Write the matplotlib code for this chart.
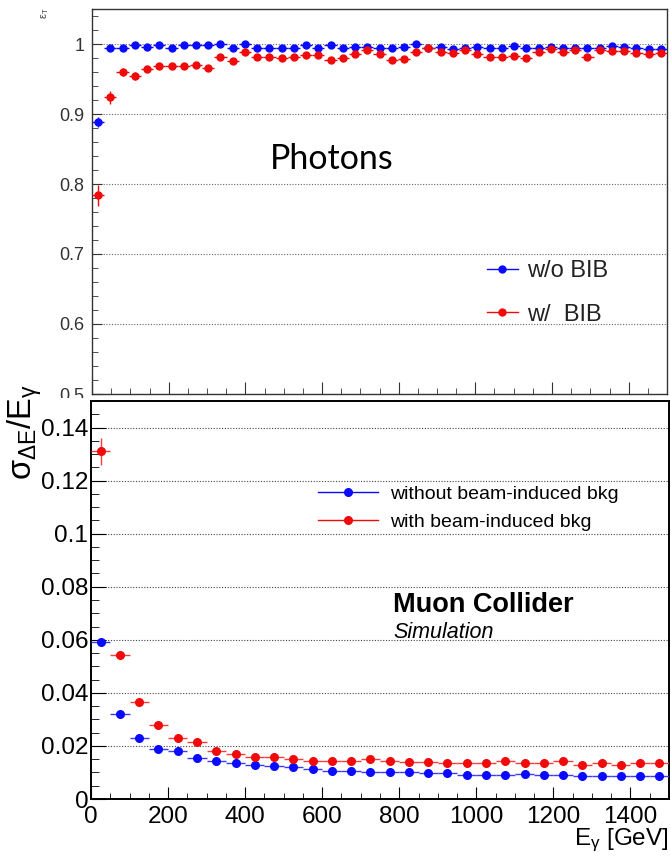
import numpy as np
import matplotlib
matplotlib.use('Agg')
import matplotlib.pyplot as plt
from matplotlib import font_manager
from matplotlib.ticker import MultipleLocator, FuncFormatter
from matplotlib.lines import Line2D
from matplotlib.patches import Rectangle

plt.rcParams['font.family'] = ['Liberation Sans', 'DejaVu Sans']
plt.rcParams['mathtext.default'] = 'regular'

try:
    font_manager.findfont('Liberation Sans Narrow', fallback_to_default=False)
    NARROW = True
except Exception:
    NARROW = False

# ---------------- data ----------------
# top panel: photon efficiency, 47 bins over 0-1500 GeV
eff_bin_edges = np.linspace(0, 1500, 48)
eff_noBIB = [0.889, 0.994, 0.995, 0.998, 0.996, 0.998, 0.995, 0.998, 0.998, 0.998,
             1.000, 0.995, 1.000, 0.995, 0.995, 0.995, 0.995, 0.998, 0.995, 0.998,
             0.995, 0.996, 0.996, 0.995, 0.995, 0.996, 1.000, 0.995, 0.996, 0.993,
             0.995, 0.996, 0.994, 0.995, 0.997, 0.995, 0.994, 0.996, 0.994, 0.995,
             0.994, 0.994, 0.997, 0.996, 0.995, 0.993, 0.993]
eff_noBIB_err = [0.007] + [0.002] * 46
eff_BIB = [0.784, 0.924, 0.960, 0.954, 0.964, 0.968, 0.968, 0.969, 0.970, 0.966,
           0.981, 0.976, 0.988, 0.982, 0.981, 0.980, 0.981, 0.984, 0.984, 0.977,
           0.980, 0.986, 0.992, 0.986, 0.977, 0.979, 0.989, 0.994, 0.989, 0.987,
           0.991, 0.986, 0.982, 0.981, 0.983, 0.980, 0.989, 0.993, 0.989, 0.992,
           0.982, 0.992, 0.990, 0.990, 0.987, 0.986, 0.987]
eff_BIB_err = [0.015, 0.009, 0.006, 0.006] + [0.004] * 43

# bottom panel: relative energy resolution, 30 bins of 50 GeV
res_bin_edges = np.linspace(0, 1500, 31)
res_noBIB = [0.0590, 0.0320, 0.0230, 0.0189, 0.0180, 0.0155, 0.0145, 0.0135, 0.0127, 0.0125,
             0.0120, 0.0112, 0.0107, 0.0107, 0.0103, 0.0101, 0.0101, 0.0098, 0.0098, 0.0092,
             0.0092, 0.0092, 0.0096, 0.0092, 0.0089, 0.0088, 0.0088, 0.0088, 0.0088, 0.0088]
res_noBIB_err = [0.0006] + [0.0003] * 29
res_BIB = [0.1310, 0.0541, 0.0367, 0.0279, 0.0230, 0.0214, 0.0181, 0.0170, 0.0160, 0.0159,
           0.0150, 0.0143, 0.0145, 0.0145, 0.0151, 0.0142, 0.0141, 0.0141, 0.0135, 0.0137,
           0.0135, 0.0142, 0.0135, 0.0137, 0.0142, 0.0128, 0.0136, 0.0129, 0.0137, 0.0135]
res_BIB_err = [0.005, 0.0008] + [0.0004] * 28

labels_top = ['w/o BIB', 'w/  BIB']
labels_bottom = ['without beam-induced bkg', 'with beam-induced bkg']

BLUE = '#0a0aff'
RED = '#f00a0a'

if NARROW:
    ROOTFAM = ['Liberation Sans Narrow', 'DejaVu Sans']
    TICK_FS, LEG_FS, LEG_LS, LEG_Y = 19.5, 17, 0.3, 483
else:
    ROOTFAM = ['Liberation Sans', 'DejaVu Sans']
    TICK_FS, LEG_FS, LEG_LS, LEG_Y = 17.5, 14, 0.56, 485

# ---------------- figure ----------------
W, H = 671, 856
fig = plt.figure(figsize=(W / 100, H / 100), dpi=100)


def box(l, t, r, b):
    return [l / W, 1 - b / H, (r - l) / W, (b - t) / H]


ax1 = fig.add_axes(box(92, 9, 667, 394))
ax2 = fig.add_axes(box(91, 401, 669, 799))
ax1.set_zorder(0)
ax2.set_zorder(2)

gfmt = FuncFormatter(lambda v, p: '%g' % round(v, 6))

# ---- top panel ----
ec = np.asarray(eff_bin_edges)
cx = 0.5 * (ec[1:] + ec[:-1])
hx = 0.5 * (ec[1:] - ec[:-1])
ax1.errorbar(cx, eff_noBIB, xerr=hx, yerr=eff_noBIB_err, fmt='o', color=BLUE,
             ms=5, elinewidth=1, capsize=0, zorder=3)
ax1.errorbar(cx, eff_BIB, xerr=hx, yerr=eff_BIB_err, fmt='o', color=RED,
             ms=5, elinewidth=1, capsize=0, zorder=4)
ax1.set_xlim(0, 1500)
ax1.set_ylim(0.5, 1.05)
ax1.xaxis.set_major_locator(MultipleLocator(200))
ax1.xaxis.set_minor_locator(MultipleLocator(50))
ax1.yaxis.set_major_locator(MultipleLocator(0.1))
ax1.yaxis.set_minor_locator(MultipleLocator(0.02))
ax1.yaxis.set_major_formatter(gfmt)
ax1.tick_params(which='both', direction='in', top=False, right=False,
                labelbottom=False, color='#333333')
ax1.tick_params(axis='y', which='major', length=7, labelsize=13, pad=5.5, labelcolor='#333333')
ax1.tick_params(axis='y', which='minor', length=4.3)
ax1.tick_params(axis='x', which='major', length=8.6)
ax1.tick_params(axis='x', which='minor', length=4)
ax1.grid(axis='y', which='major', linestyle=(0, (1, 1.5)), color='#666666', lw=0.8)
for s in ax1.spines.values():
    s.set_color('#333333')
    s.set_linewidth(1.0)

fig.text(270 / W, 1 - 159 / H, 'Photons', family=['Lato', 'DejaVu Sans'],
         fontsize=24.5, va='center', ha='left')
fig.text(45 / W, 1 - 7 / H, r'$\epsilon_T$', fontsize=8, rotation=90,
         ha='center', va='top', color='#444444')

h_top = [Line2D([], [], color=BLUE, marker='o', ms=5, lw=1),
         Line2D([], [], color=RED, marker='o', ms=5, lw=1)]
ax1.legend(h_top, labels_top, loc='upper left', bbox_to_anchor=(487 / W, 1 - 260 / H),
           bbox_transform=fig.transFigure, frameon=False, fontsize=17,
           handlelength=1.3, handletextpad=0.38, labelspacing=0.92,
           borderpad=0, borderaxespad=0, labelcolor='#222222')

# ---- bottom panel ----
eb = np.asarray(res_bin_edges)
bx = 0.5 * (eb[1:] + eb[:-1])
bh = 0.5 * (eb[1:] - eb[:-1])
ax2.errorbar(bx, res_noBIB, xerr=bh, yerr=res_noBIB_err, fmt='o', color=BLUE,
             ecolor='#3a3aff', ms=5.5, elinewidth=1, capsize=0, zorder=3)
ax2.errorbar(bx, res_BIB, xerr=bh, yerr=res_BIB_err, fmt='o', color=RED,
             ecolor='#ff3a3a', ms=5.5, elinewidth=1, capsize=0, zorder=4)
ax2.set_xlim(0, 1500)
ax2.set_ylim(0, 0.15)
ax2.xaxis.set_major_locator(MultipleLocator(200))
ax2.xaxis.set_minor_locator(MultipleLocator(50))
ax2.yaxis.set_major_locator(MultipleLocator(0.02))
ax2.yaxis.set_minor_locator(MultipleLocator(0.005))
ax2.yaxis.set_major_formatter(gfmt)
ax2.xaxis.set_major_formatter(gfmt)
ax2.tick_params(which='both', direction='in', top=False, right=False, labelsize=TICK_FS)
for lab in ax2.get_xticklabels() + ax2.get_yticklabels():
    lab.set_family(ROOTFAM)
ax2.tick_params(axis='y', which='major', length=11, pad=2)
ax2.tick_params(axis='y', which='minor', length=5.5)
ax2.tick_params(axis='x', which='major', length=8.6, pad=5)
ax2.tick_params(axis='x', which='minor', length=4.3)
ax2.grid(axis='y', which='major', linestyle=(0, (1, 1.5)), color='#444444', lw=0.8)
for s in ax2.spines.values():
    s.set_color('black')
    s.set_linewidth(1.4)

h_bot = [Line2D([], [], color=BLUE, marker='o', ms=5.5, lw=1),
         Line2D([], [], color=RED, marker='o', ms=5.5, lw=1)]
leg2 = ax2.legend(h_bot, labels_bottom, loc='upper left', bbox_to_anchor=(318 / W, 1 - LEG_Y / H),
                  bbox_transform=fig.transFigure, frameon=False,
                  prop={'family': ROOTFAM, 'size': LEG_FS},
                  handlelength=60 / (LEG_FS * 100 / 72), handletextpad=12 / (LEG_FS * 100 / 72),
                  labelspacing=LEG_LS, borderpad=0, borderaxespad=0)

fig.text(393 / W, 1 - 605 / H, 'Muon Collider', fontsize=19.5, weight='bold',
         va='center', ha='left')
fig.text(393 / W, 1 - 632 / H, 'Simulation', fontsize=15.5, style='italic',
         va='center', ha='left')

fig.text(25 / W, 1 - 384 / H, r'$\sigma_{\Delta E}/E_{\gamma}$', fontsize=23.5,
         rotation=90, ha='center', va='top', zorder=5)
fig.text(669 / W, 2 / H, r'$E_{\gamma}$ [GeV]', fontsize=17.5,
         ha='right', va='bottom', zorder=5)

# white band hiding the part of the top pad below its frame
fig.patches.append(Rectangle((0, 0), 91 / W, 1 - 398 / H, transform=fig.transFigure,
                             facecolor='white', edgecolor='none', zorder=1))

fig.savefig('out.png', dpi=100)
